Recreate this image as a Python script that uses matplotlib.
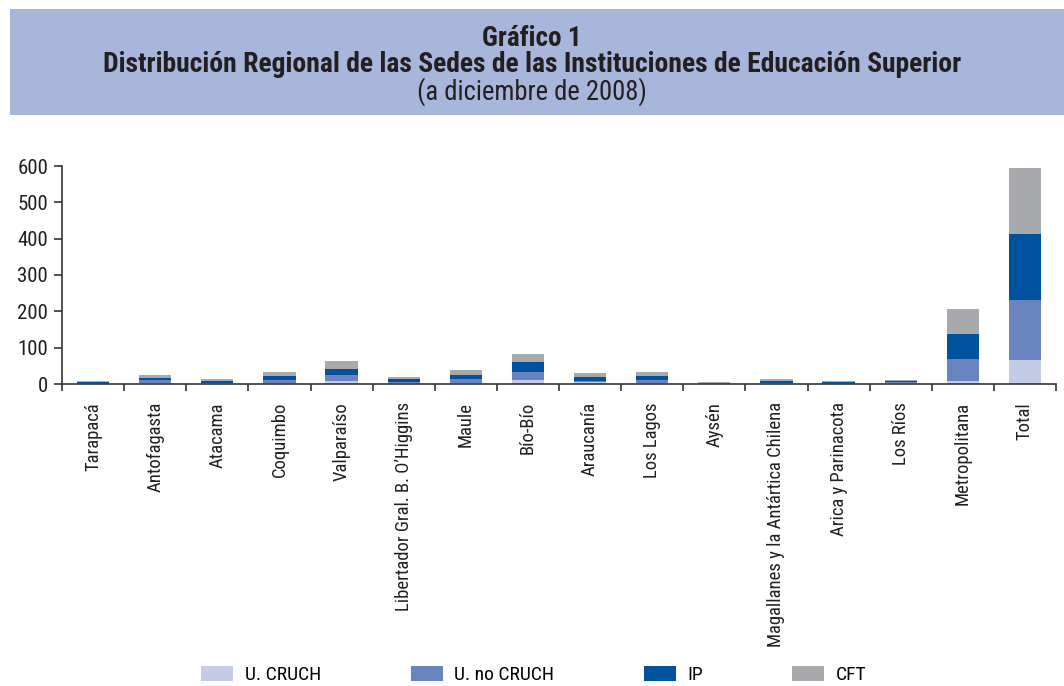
import numpy as np
import matplotlib.pyplot as plt
from matplotlib import font_manager
from matplotlib.patches import Rectangle

# familia condensada disponible (la primera que exista)
installed = {f.name for f in font_manager.fontManager.ttflist}
prefs = ['Roboto Condensed', 'Archivo Narrow', 'PT Sans Narrow', 'Fira Sans Condensed',
         'Pragati Narrow', 'Encode Sans Condensed', 'Liberation Sans Narrow', 'Roboto']
FONT = [f for f in prefs if f in installed][:1] + ['DejaVu Sans']
plt.rcParams['font.family'] = FONT

regiones = ['Tarapacá', 'Antofagasta', 'Atacama', 'Coquimbo', 'Valparaíso',
            'Libertador Gral. B. O\u2019Higgins', 'Maule', 'Bío-Bío', 'Araucanía',
            'Los Lagos', 'Aysén', 'Magallanes y la Antártica Chilena',
            'Arica y Parinacota', 'Los Ríos', 'Metropolitana', 'Total']

# sedes por tipo de institución
u_cruch = [1, 4, 3, 4, 7, 3, 4, 10, 6, 4, 1, 3, 1, 4, 9, 66]
u_no_cruch = [3, 7, 1, 7, 18, 3, 10, 23, 2, 7, 1, 1, 3, 1, 60, 165]
ip = [2, 6, 3, 11, 16, 8, 11, 28, 11, 11, 1, 4, 1, 3, 69, 182]
cft = [1, 8, 7, 11, 22, 5, 13, 22, 11, 11, 3, 6, 4, 3, 68, 182]

series = [('U. CRUCH', u_cruch, '#c3cbe5'),
          ('U. no CRUCH', u_no_cruch, '#6a84c0'),
          ('IP', ip, '#00529f'),
          ('CFT', cft, '#a7a9ac')]

fig = plt.figure(figsize=(10.64, 6.86), dpi=100)

# banda del título
fig.patches.append(Rectangle((10 / 1064, 1 - 115 / 686), 1 - 10 / 1064, 106 / 686,
                             transform=fig.transFigure, facecolor='#a9b6db',
                             edgecolor='none', zorder=0))
fig.text(0.5, 1 - 38 / 686, 'Gráfico 1', ha='center', va='center',
         fontsize=19.5, fontweight='bold', color='#231f20')
fig.text(0.5, 1 - 65 / 686,
         'Distribución Regional de las Sedes de las Instituciones de Educación Superior',
         ha='center', va='center', fontsize=19.9, fontweight='bold', color='#231f20')
fig.text(0.5, 1 - 92 / 686, '(a diciembre de 2008)', ha='center', va='center',
         fontsize=19.2, color='#231f20')

ax = fig.add_axes([62 / 1064, 1 - 384 / 686, (1056 - 62) / 1064, 218 / 686])
x = np.arange(len(regiones))
bottom = np.zeros(len(regiones))
for name, vals, col in series:
    ax.bar(x, vals, width=0.52, bottom=bottom, color=col, label=name)
    bottom += np.array(vals)

ax.set_xlim(-0.5, len(regiones) - 0.5)
ax.set_ylim(0, 600)
ax.set_yticks(range(0, 601, 100))
ax.set_xticks(x)
ax.set_xticklabels(regiones, rotation=90, va='top', ha='center')
ax.set_xticks(np.arange(-0.5, len(regiones)), minor=True)
ax.tick_params(axis='x', which='major', length=0, pad=13, labelsize=13.4, colors='#231f20')
ax.tick_params(axis='x', which='minor', length=5, width=1.2, color='#333333')
ax.tick_params(axis='y', length=6, width=1.2, color='#333333', labelsize=15,
               labelcolor='#231f20', pad=4)
for s in ['top', 'right']:
    ax.spines[s].set_visible(False)
for s in ['left', 'bottom']:
    ax.spines[s].set_color('#333333')
    ax.spines[s].set_linewidth(1.2)

fig.legend(loc='center', bbox_to_anchor=(534 / 1064, 1 - 675 / 686), ncol=4, frameon=False,
           fontsize=14, handlelength=1.64, handleheight=0.8, handletextpad=0.6,
           columnspacing=4.6, borderpad=0)

fig.savefig('out.png', dpi=100)
